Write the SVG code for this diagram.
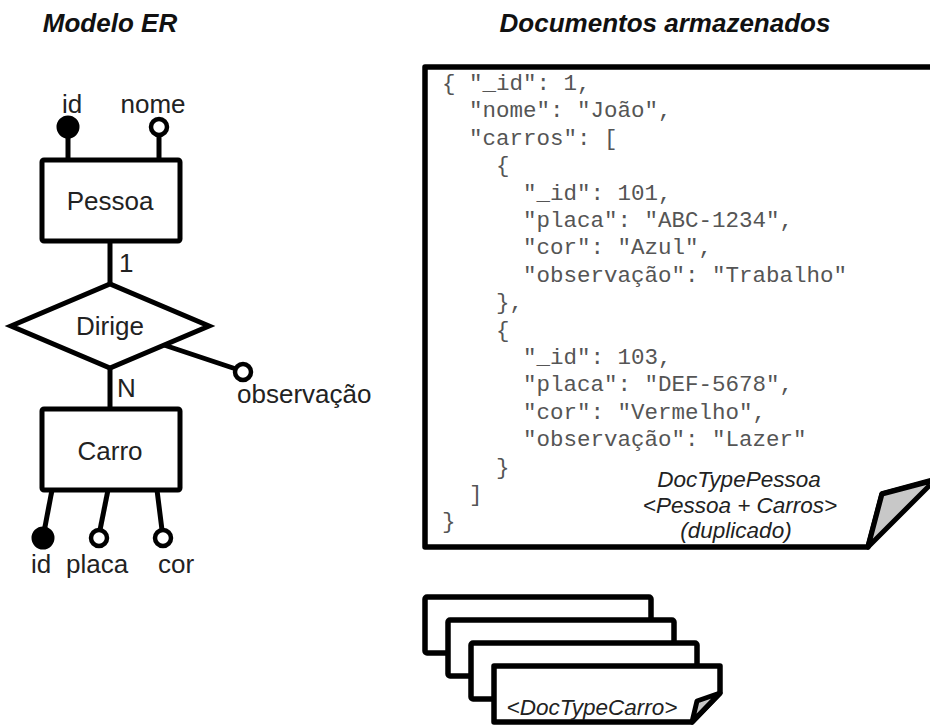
<svg xmlns="http://www.w3.org/2000/svg" width="930" height="725" viewBox="0 0 930 725">
  <style>
    .title { font-family: "Liberation Sans", Arial, sans-serif; font-size: 26px; font-weight: bold; font-style: italic; fill: #111; text-anchor: middle; }
    .lbl { font-family: "Liberation Sans", Arial, sans-serif; font-size: 26px; fill: #222; }
    .mid { text-anchor: middle; }
    .shape { fill: #fff; stroke: #000; stroke-width: 5; stroke-linejoin: round; }
    .edge { fill: none; stroke: #000; stroke-width: 5; }
    .opt { fill: #fff; stroke: #000; stroke-width: 4.5; }
    .key { fill: #000; stroke: #000; stroke-width: 3; }
    .code { font-family: "Liberation Mono", "Courier New", monospace; font-size: 22.5px; fill: #555; }
    .doclbl { font-family: "Liberation Sans", Arial, sans-serif; font-size: 22.5px; font-style: italic; fill: #222; text-anchor: middle; }
    .fold { fill: #c8c8c8; stroke: #000; stroke-width: 5; stroke-linejoin: round; }
    .page { fill: #fff; stroke: #000; stroke-width: 5.5; stroke-linejoin: round; }
  </style>

  <!-- headings -->
  <text class="title" x="110" y="32">Modelo ER</text>
  <text class="title" x="665" y="32">Documentos armazenados</text>

  <!-- ER connectors -->
  <g id="connectors">
    <line class="edge" x1="68" y1="160" x2="68" y2="133"/>
    <line class="edge" x1="159" y1="160" x2="159" y2="135"/>
    <line class="edge" x1="110" y1="241" x2="110" y2="284"/>
    <line class="edge" x1="110" y1="368" x2="110" y2="408"/>
    <line class="edge" x1="164" y1="345" x2="236" y2="369"/>
    <line class="edge" x1="52" y1="490" x2="44" y2="532"/>
    <line class="edge" x1="108" y1="490" x2="100" y2="530"/>
    <line class="edge" x1="157" y1="490" x2="162" y2="530"/>
    <text class="lbl" x="119" y="272">1</text>
    <text class="lbl" x="117" y="397">N</text>
  </g>

  <!-- entity Pessoa -->
  <g id="pessoa">
    <rect class="shape" x="42" y="160" width="138" height="81" rx="2"/>
    <text class="lbl mid" x="110" y="210">Pessoa</text>
  </g>
  <g id="pessoa-id">
    <circle class="key" cx="68" cy="127" r="10"/>
    <text class="lbl mid" x="72" y="113">id</text>
  </g>
  <g id="pessoa-nome">
    <circle class="opt" cx="159" cy="127" r="8"/>
    <text class="lbl mid" x="153" y="113">nome</text>
  </g>

  <!-- relationship Dirige -->
  <g id="dirige">
    <polygon class="shape" points="11,326 110,284 209,326 110,368" style="stroke-linejoin:miter"/>
    <text class="lbl mid" x="110" y="335">Dirige</text>
  </g>
  <g id="dirige-observacao">
    <circle class="opt" cx="243" cy="372" r="8"/>
    <text class="lbl" x="237" y="403">observação</text>
  </g>

  <!-- entity Carro -->
  <g id="carro">
    <rect class="shape" x="42" y="409" width="138" height="81" rx="2"/>
    <text class="lbl mid" x="110" y="460">Carro</text>
  </g>
  <g id="carro-id">
    <circle class="key" cx="43" cy="538" r="10"/>
    <text class="lbl" x="31" y="573">id</text>
  </g>
  <g id="carro-placa">
    <circle class="opt" cx="99" cy="538" r="8"/>
    <text class="lbl" x="66" y="573">placa</text>
  </g>
  <g id="carro-cor">
    <circle class="opt" cx="163" cy="538" r="8"/>
    <text class="lbl" x="158" y="573">cor</text>
  </g>

  <!-- stored Pessoa document -->
  <g id="doc-pessoa">
    <path class="page" d="M940,67 H425 V547 H868 L882,494 L940,478"/>
    <polygon class="fold" points="868,547 882,494 935,480"/>
    <g class="code">
      <text x="442" y="90">{ "_id": 1,</text>
      <text x="469" y="117.4">"nome": "João",</text>
      <text x="469" y="144.8">"carros": [</text>
      <text x="496" y="172.2">{</text>
      <text x="523" y="199.6">"_id": 101,</text>
      <text x="523" y="227">"placa": "ABC-1234",</text>
      <text x="523" y="254.4">"cor": "Azul",</text>
      <text x="523" y="281.8">"observação": "Trabalho"</text>
      <text x="496" y="309.2">},</text>
      <text x="496" y="336.6">{</text>
      <text x="523" y="364">"_id": 103,</text>
      <text x="523" y="391.4">"placa": "DEF-5678",</text>
      <text x="523" y="418.8">"cor": "Vermelho",</text>
      <text x="523" y="446.2">"observação": "Lazer"</text>
      <text x="496" y="473.6">}</text>
      <text x="469" y="501">]</text>
      <text x="442" y="528.4">}</text>
    </g>
    <text class="doclbl" x="739" y="487">DocTypePessoa</text>
    <text class="doclbl" x="740" y="513">&lt;Pessoa + Carros&gt;</text>
    <text class="doclbl" x="736" y="538">(duplicado)</text>
  </g>

  <!-- stack of Carro documents -->
  <g id="doc-carro">
    <rect class="page" x="425" y="597" width="226" height="56" rx="2"/>
    <rect class="page" x="448" y="620" width="226" height="56" rx="2"/>
    <rect class="page" x="471" y="643" width="226" height="56" rx="2"/>
    <path class="page" d="M494,666 H720 V693 L692,722 H494 Z"/>
    <polygon class="fold" points="692,722 697,701 720,693"/>
    <text class="doclbl" x="592" y="715">&lt;DocTypeCarro&gt;</text>
  </g>
</svg>
